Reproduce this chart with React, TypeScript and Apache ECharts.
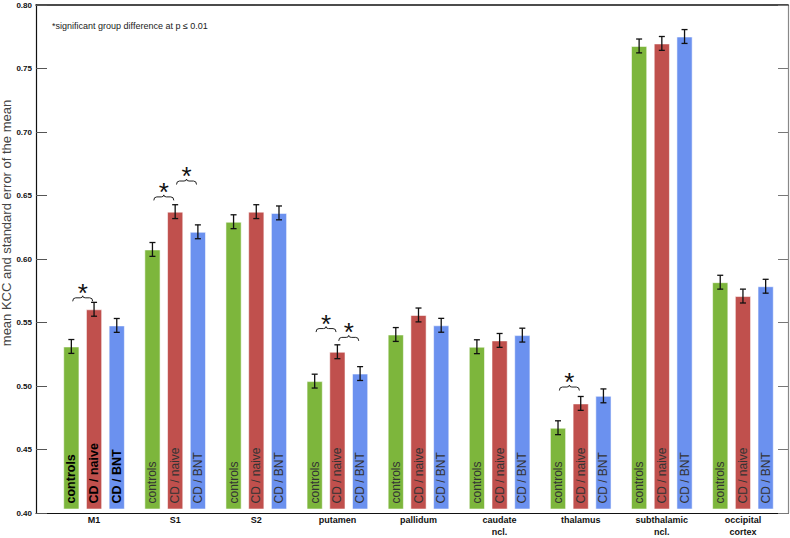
import React, { useEffect, useRef } from "react";
import * as echarts from "echarts";

const categories = ["M1", "S1", "S2", "putamen", "pallidum", "caudate\nncl.", "thalamus", "subthalamic\nncl.", "occipital\ncortex"];
const groupNames = ["controls", "CD / naive", "CD / BNT"];
const controlsMean = [0.529, 0.606, 0.628, 0.5015, 0.5385, 0.5288, 0.4645, 0.7675, 0.58];
const naiveMean = [0.5585, 0.636, 0.636, 0.5248, 0.554, 0.5338, 0.4838, 0.7695, 0.569];
const bntMean = [0.5457, 0.62, 0.635, 0.5075, 0.5458, 0.538, 0.4898, 0.775, 0.5768];
const controlsErr = [0.0055, 0.0055, 0.0055, 0.0055, 0.0055, 0.0055, 0.0055, 0.0055, 0.0055];
const naiveErr = [0.0055, 0.0055, 0.0055, 0.0055, 0.0055, 0.0055, 0.0055, 0.0055, 0.0055];
const bntErr = [0.0055, 0.0055, 0.0055, 0.0055, 0.0055, 0.0055, 0.0055, 0.0055, 0.0055];
// significance annotations: [category index, brace level (value), pair (0 = controls-naive, 1 = naive-BNT)]
const sigCategory = [0, 1, 1, 3, 3, 6];
const sigLevel = [0.5676, 0.6477, 0.6603, 0.5432, 0.5362, 0.4968];
const sigPair = [0, 0, 1, 0, 1, 0];
const yTicks = { min: 0.4, max: 0.8, interval: 0.05 };
const colors = ["#7db63c", "#c0504d", "#6b91ef"];
const FONT = "Liberation Sans";

const means = [controlsMean, naiveMean, bntMean];
const errs = [controlsErr, naiveErr, bntErr];
const BAR_STEP = 0.28; // fraction of band between bar centres (20% width + 40% gap)

export default function App() {
  const ref = useRef<HTMLDivElement>(null);
  useEffect(() => {
    if (!ref.current) return;
    const chart = echarts.init(ref.current, null, { renderer: "svg" });

    const barSeries = means.map((arr, g) => ({
      type: "bar",
      name: groupNames[g],
      xAxisIndex: 1,
      yAxisIndex: 2,
      barWidth: "20%",
      barGap: "40%",
      itemStyle: { color: colors[g], borderColor: "rgba(255,255,255,0.55)", borderWidth: 1 },
      label: {
        show: true,
        position: "insideBottom",
        rotate: 90,
        align: "left",
        verticalAlign: "middle",
        distance: 6,
        formatter: groupNames[g],
        fontSize: 12,
        fontFamily: FONT,
        color: "#333",
      },
      data: arr.map((v, i) =>
        i === 0
          ? { value: v, label: { fontWeight: "bold", color: "#000", fontSize: 12.5 } }
          : v
      ),
      z: 2,
    }));

    const errSeries = means.map((arr, g) => ({
      type: "custom",
      xAxisIndex: 1,
      yAxisIndex: 2,
      z: 5,
      silent: true,
      data: arr.map((v, i) => [i, v - errs[g][i], v + errs[g][i]]),
      renderItem: (params: any, api: any) => {
        const cat = api.value(0);
        const lo = api.coord([cat, api.value(1)]);
        const hi = api.coord([cat, api.value(2)]);
        const band = api.size([1, 0])[0];
        const x = lo[0] + (g - 1) * BAR_STEP * band;
        const cap = 3;
        const st = { stroke: "#111", lineWidth: 1.3 };
        return {
          type: "group",
          children: [
            { type: "line", shape: { x1: x, y1: lo[1], x2: x, y2: hi[1] }, style: st },
            { type: "line", shape: { x1: x - cap, y1: lo[1], x2: x + cap, y2: lo[1] }, style: st },
            { type: "line", shape: { x1: x - cap, y1: hi[1], x2: x + cap, y2: hi[1] }, style: st },
          ],
        };
      },
    }));

    const sigSeries = {
      type: "custom",
      xAxisIndex: 1,
      yAxisIndex: 2,
      z: 6,
      silent: true,
      data: sigCategory.map((c, i) => [c, sigLevel[i], sigPair[i]]),
      renderItem: (params: any, api: any) => {
        const cat = api.value(0);
        const p = api.coord([cat, api.value(1)]);
        const band = api.size([1, 0])[0];
        const cx = p[0] + (api.value(2) - 0.5) * BAR_STEP * band;
        const cy = p[1];
        return {
          type: "group",
          children: [
            {
              type: "path",
              x: cx,
              y: cy,
              shape: {
                pathData: "M -10 3.5 Q -10 0 -7 0 L -2.5 0 Q 0 0 0 -2 Q 0 0 2.5 0 L 7 0 Q 10 0 10 3.5",
              },
              style: { stroke: "#222", lineWidth: 1, fill: "none" },
            },
            {
              type: "text",
              x: cx,
              y: cy - 5,
              style: { text: "*", fontSize: 26, fontFamily: FONT, fill: "#111", align: "center", verticalAlign: "middle" },
            },
          ],
        };
      },
    };

    const option: any = {
      animation: false,
      backgroundColor: "#fff",
      textStyle: { fontFamily: FONT },
      grid: [
        { left: 36, right: 2, top: 5, bottom: 25 },
        { left: 53.5, right: 6.5, top: 5, bottom: 25 },
      ],
      xAxis: [
        {
          type: "value",
          gridIndex: 0,
          min: 0,
          max: 1,
          axisLine: { show: true, onZero: false, lineStyle: { color: "#111", width: 1.2 } },
          axisTick: { show: false },
          axisLabel: { show: false },
          splitLine: { show: false },
        },
        {
          type: "category",
          gridIndex: 1,
          data: categories,
          axisLine: { show: false },
          axisTick: { show: false },
          axisLabel: { fontSize: 9, fontWeight: "bold", color: "#111", lineHeight: 12, margin: 5, interval: 0, fontFamily: FONT },
        },
        {
          type: "value",
          gridIndex: 0,
          position: "top",
          min: 0,
          max: 1,
          axisLine: { show: true, onZero: false, lineStyle: { color: "#111", width: 1.5 } },
          axisTick: { show: false },
          axisLabel: { show: false },
          splitLine: { show: false },
        },
      ],
      yAxis: [
        {
          type: "value",
          gridIndex: 0,
          min: yTicks.min,
          max: yTicks.max,
          interval: yTicks.interval,
          axisLine: { show: true, onZero: false, lineStyle: { color: "#111", width: 1.2 } },
          axisTick: { show: true, inside: true, length: 11, lineStyle: { color: "#555", width: 1 } },
          axisLabel: {
            fontSize: 8,
            fontWeight: "bold",
            color: "#111",
            margin: 4,
            fontFamily: FONT,
            formatter: (v: number) => v.toFixed(2),
          },
          splitLine: { show: false },
        },
        {
          type: "value",
          gridIndex: 0,
          position: "right",
          min: yTicks.min,
          max: yTicks.max,
          interval: yTicks.interval,
          axisLine: { show: true, onZero: false, lineStyle: { color: "#888", width: 1.2 } },
          axisTick: { show: true, inside: true, length: 10, lineStyle: { color: "#777", width: 1 } },
          axisLabel: { show: false },
          splitLine: { show: false },
        },
        {
          type: "value",
          gridIndex: 1,
          min: yTicks.min,
          max: yTicks.max,
          interval: yTicks.interval,
          show: false,
          splitLine: { show: false },
        },
      ],
      graphic: [
        {
          type: "text",
          x: 6,
          y: 223,
          rotation: Math.PI / 2,
          style: {
            text: "mean KCC and standard error of the mean",
            fontSize: 13,
            fontFamily: FONT,
            fill: "#444",
            align: "center",
            verticalAlign: "middle",
          },
        },
        {
          type: "text",
          x: 52,
          y: 25.5,
          style: {
            text: "*significant group difference at p \u2264 0.01",
            fontSize: 9,
            fontFamily: FONT,
            fill: "#222",
            align: "left",
            verticalAlign: "middle",
          },
        },
      ],
      series: [...barSeries, ...errSeries, sigSeries],
    };
    chart.setOption(option);
    return () => chart.dispose();
  }, []);
  return (
    <div
      ref={ref}
      style={{ position: "absolute", left: 0, top: 0, width: 790, height: 538 }}
    />
  );
}
